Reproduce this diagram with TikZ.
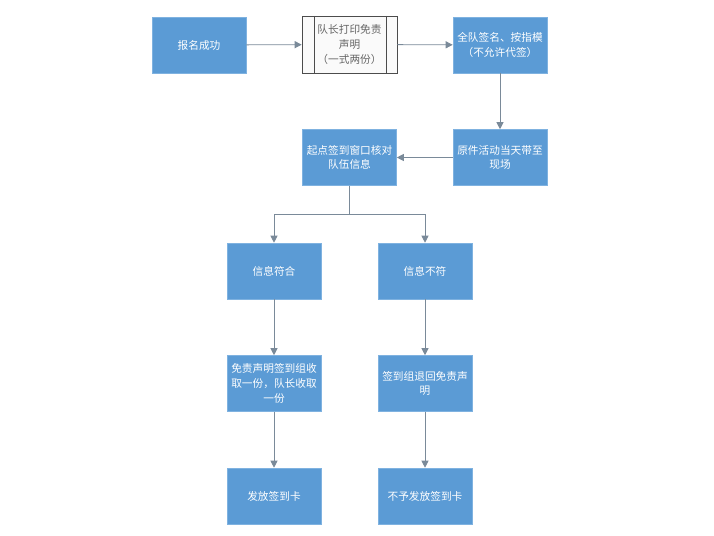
\documentclass[tikz,border=0pt]{standalone}
\usepackage{fontspec}
\setmainfont{Noto Sans CJK SC}
\usetikzlibrary{arrows.meta}
\definecolor{boxblue}{HTML}{5B9BD5}
\definecolor{boxedge}{HTML}{7FB2E0}
\definecolor{linegray}{HTML}{7A8A99}
\tikzset{
  stepbox/.style={draw=boxedge, fill=boxblue, text=white, minimum width=2.35cm,
    minimum height=1.4cm, align=center, inner sep=1pt,
    font=\fontsize{7.6}{10.5}\selectfont},
  procbox/.style={draw=black!70, fill=black!2, text=black!60, minimum width=2.375cm,
    minimum height=1.425cm, align=center, inner sep=1pt,
    font=\fontsize{7.6}{10.5}\selectfont},
  flow/.style={draw=linegray, line width=0.6pt, -{Triangle[width=5pt,length=5pt]}}
}
\begin{document}
\begin{tikzpicture}[x=0.025cm,y=-0.025cm]
\useasboundingbox[fill=white] (0,0) rectangle (714,536);
% top row
\node[stepbox] (b1) at (199,45) {报名成功};
\node[procbox] (b2) at (349.5,44.5) {队长打印免责\\声明\\（一式两份）};
\draw[black!70] (314,16) -- (314,73);
\draw[black!70] (386,16) -- (386,73);
\node[stepbox] (b3) at (500,45) {全队签名、按指模\\（不允许代签）};
% second row
\node[stepbox] (b4) at (500,157.5) {原件活动当天带至\\现场};
\node[stepbox] (b5) at (349.5,157.5) {起点签到窗口核对\\队伍信息};
% branches
\node[stepbox] (b6) at (274,271) {信息符合};
\node[stepbox] (b7) at (425,271) {信息不符};
\node[stepbox] (b8) at (274,383.5) {免责声明签到组收\\取一份，队长收取\\一份};
\node[stepbox] (b9) at (425,383.5) {签到组退回免责声\\明};
\node[stepbox] (b10) at (274,496) {发放签到卡};
\node[stepbox] (b11) at (425,496) {不予发放签到卡};
\coordinate (split) at (349.5,214);
% connectors
\draw[flow] (b1) -- (b2);
\draw[flow] (b2) -- (b3);
\draw[flow] (b3) -- (b4);
\draw[flow] (b4) -- (b5);
\draw[draw=linegray, line width=0.6pt] (b5) -- (split);
\draw[flow] (split) -| (b6);
\draw[flow] (split) -| (b7);
\draw[flow] (b6) -- (b8);
\draw[flow] (b7) -- (b9);
\draw[flow] (b8) -- (b10);
\draw[flow] (b9) -- (b11);
\end{tikzpicture}
\end{document}
